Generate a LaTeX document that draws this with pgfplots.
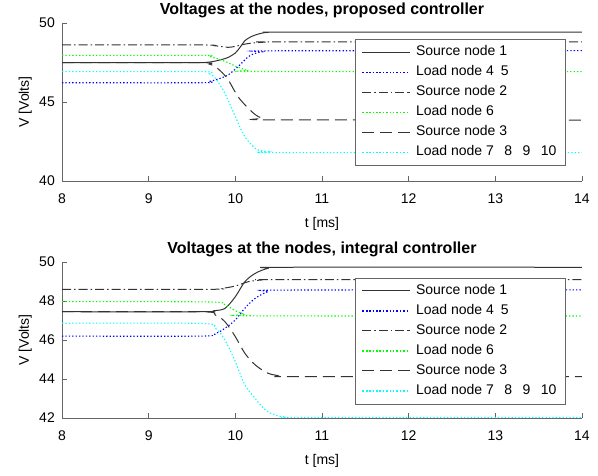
\documentclass[border=0pt]{standalone}
\usepackage{fontspec}
\setmainfont{Liberation Sans}
\usepackage{pgfplots}
\pgfplotsset{compat=1.18}

\definecolor{axgray}{gray}{0.40}
\definecolor{mblue}{rgb}{0,0,1}
\definecolor{mgreen}{rgb}{0,1,0}
\definecolor{mcyan}{rgb}{0,1,1}

\pgfplotsset{
  vplot/.style={
    scale only axis, width=520pt, anchor=south west, clip=false,
    xmin=8, xmax=14, xtick={8,...,14},
    axis lines=left,
    axis line style={-, draw=axgray, line width=0.9pt},
    tick style={draw=axgray, line width=0.8pt},
    tick align=inside, major tick length=5pt,
    /pgf/number format/assume math mode=true,
    tick label style={font=\fontsize{14}{16}\selectfont},
    xticklabel style={anchor=base, yshift=-22pt, inner sep=0pt},
    yticklabel style={anchor=east, xshift=-7pt, inner sep=0pt},
    label style={font=\fontsize{14}{16}\selectfont},
    title style={at={(axis description cs:0.5,1)}, anchor=base, yshift=2.5pt,
                 font=\fontsize{16}{18}\selectfont\bfseries},
    xlabel={t [ms]},
    ylabel={V [Volts]},
    xlabel style={at={(axis description cs:0.5,0)}, anchor=base, yshift=-46pt},
    ylabel style={at={(axis description cs:-0.0635,0.5)}, anchor=base},
    legend cell align=left,
    legend style={anchor=north east, draw=axgray, fill=white, line width=0.7pt,
                  font=\fontsize{14}{16}\selectfont,
                  inner xsep=7pt, inner ysep=3pt, column sep=4pt,
                  nodes={inner xsep=2pt, inner ysep=3.5pt, text height=10pt, text depth=3pt}},
    legend image code/.code={\draw[#1] plot coordinates {(0pt,0pt) (47pt,0pt)};},
  },
  src1/.style={color=black!80, line width=1pt, smooth},
  src2/.style={color=black!80, line width=1pt, smooth, dash pattern=on 9pt off 3pt on 1.5pt off 3pt},
  src3/.style={color=black!80, line width=1pt, smooth, dash pattern=on 12pt off 6pt},
  ld45/.style={color=mblue, line width=1.1pt, smooth, dash pattern=on 1.3pt off 2.1pt},
  ld6/.style={color=mgreen, line width=1.1pt, smooth, dash pattern=on 1.3pt off 2.1pt},
  ld7/.style={color=mcyan, line width=1.1pt, smooth, dash pattern=on 1.3pt off 2.1pt},
}

\begin{document}
\begin{tikzpicture}
\useasboundingbox (0pt,0pt) rectangle (598pt,475pt);

% proposed controller (upper)
\begin{axis}[vplot, at={(62pt,294pt)}, height=158pt,
    ymin=40, ymax=50, ytick={40,45,50},
    title={Voltages at the nodes, proposed controller},
    legend style={at={(0.969,0.899)}}]
\addplot[src1] coordinates {(8,47.49) (9.5,47.49) (9.65,47.5) (9.75,47.57) (9.85,47.7) (9.92,47.83) (10.0,48.1) (10.06,48.5) (10.11,48.88) (10.17,49.1) (10.23,49.24) (10.3,49.35) (10.38,49.41) (10.6,49.42) (14,49.42)};
\addlegendentry{Source node 1}
\addplot[ld45] coordinates {(8,46.22) (9.6,46.22) (9.7,46.3) (9.77,46.4) (9.85,46.55) (9.92,46.72) (10.03,47.23) (10.15,47.87) (10.23,48.08) (10.31,48.18) (10.45,48.24) (14,48.25)};
\addlegendentry{Load node 4\hspace{0.5em}5}
\addplot[src2] coordinates {(8,48.61) (9.6,48.61) (9.75,48.57) (9.85,48.5) (9.92,48.46) (10.0,48.52) (10.07,48.62) (10.15,48.7) (10.23,48.75) (10.35,48.79) (10.5,48.8) (14,48.8)};
\addlegendentry{Source node 2}
\addplot[ld6] coordinates {(8,47.95) (9.6,47.95) (9.7,47.88) (9.84,47.66) (10.0,47.28) (10.08,47.1) (10.15,47.0) (10.3,46.93) (14,46.92)};
\addlegendentry{Load node 6}
\addplot[src3] coordinates {(8,47.49) (9.6,47.49) (9.7,47.4) (9.77,47.23) (9.85,46.85) (9.92,46.39) (10.03,45.34) (10.15,44.6) (10.23,44.2) (10.31,43.97) (10.45,43.87) (14,43.86)};
\addlegendentry{Source node 3}
\addplot[ld7] coordinates {(8,46.92) (9.6,46.92) (9.7,46.8) (9.77,46.5) (9.88,45.55) (10.0,44.07) (10.11,42.8) (10.23,42.07) (10.3,41.92) (10.38,41.85) (10.5,41.8) (14,41.8)};
\addlegendentry{Load node 7\hspace{0.75em}8\hspace{0.75em}9\hspace{0.75em}10}
\end{axis}

% integral controller (lower)
\begin{axis}[vplot, at={(62pt,57pt)}, height=156pt,
    ymin=42, ymax=50, ytick={42,44,...,50},
    title={Voltages at the nodes, integral controller},
    legend style={at={(0.969,0.9)}}]
\addplot[src1] coordinates {(8,47.45) (9.6,47.45) (9.75,47.5) (9.88,47.62) (10.0,48.22) (10.11,48.99) (10.23,49.42) (10.38,49.68) (10.55,49.73) (14,49.73)};
\addlegendentry{Source node 1}
\addplot[ld45] coordinates {(8,46.2) (9.6,46.2) (9.77,46.33) (9.88,46.6) (10.0,47.03) (10.11,47.63) (10.23,48.14) (10.38,48.48) (10.55,48.56) (14,48.57)};
\addlegendentry{Load node 4\hspace{0.5em}5}
\addplot[src2] coordinates {(8,48.6) (9.7,48.6) (9.85,48.65) (10.0,48.77) (10.15,48.99) (10.31,49.08) (10.5,49.1) (14,49.1)};
\addlegendentry{Source node 2}
\addplot[ld6] coordinates {(8,47.97) (9.7,47.95) (9.88,47.8) (10.0,47.5) (10.11,47.32) (10.25,47.24) (14,47.23)};
\addlegendentry{Load node 6}
\addplot[src3] coordinates {(8,47.45) (9.6,47.45) (9.77,47.28) (9.88,46.94) (10.0,46.17) (10.11,45.32) (10.23,44.72) (10.38,44.29) (10.54,44.15) (10.7,44.12) (14,44.12)};
\addlegendentry{Source node 3}
\addplot[ld7] coordinates {(8,46.86) (9.6,46.85) (9.77,46.6) (9.88,46.0) (10.0,44.89) (10.11,43.7) (10.23,43.0) (10.35,42.4) (10.46,42.15) (10.58,42.05) (10.8,42.03) (14,42.03)};
\addlegendentry{Load node 7\hspace{0.75em}8\hspace{0.75em}9\hspace{0.75em}10}
\end{axis}
\end{tikzpicture}
\end{document}
